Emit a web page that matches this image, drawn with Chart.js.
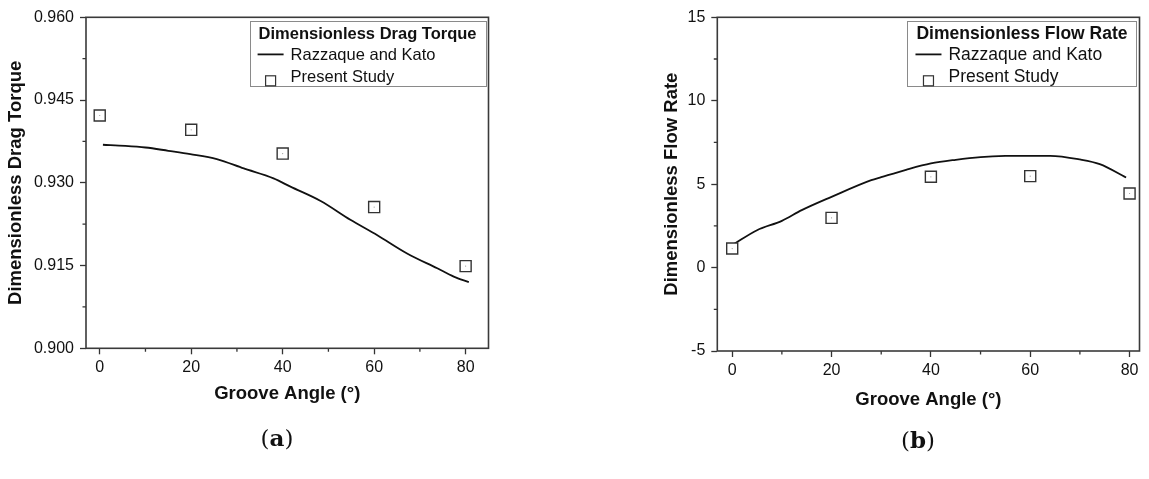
<!DOCTYPE html>
<html><head><meta charset="utf-8">
<script src="https://cdn.jsdelivr.net/npm/chart.js@4.4.0/dist/chart.umd.min.js"></script>
<style>
html,body{margin:0;padding:0;background:#fff;width:1149px;height:479px;overflow:hidden;}
#ca{position:absolute;left:0;top:0;}
#cb{position:absolute;left:640px;top:0;}
.cap{position:absolute;width:100px;text-align:center;font-family:"DejaVu Serif",serif;font-size:23px;line-height:26px;color:#111;}
</style></head><body>
<canvas id="ca" width="500" height="479" style="width:500px;height:479px"></canvas>
<canvas id="cb" width="509" height="479" style="width:509px;height:479px"></canvas>
<div class="cap" style="left:227px;top:425px">(<b>a</b>)</div>
<div class="cap" style="left:868px;top:427px">(<b>b</b>)</div>
<script>
// ---------- data ----------
const seriesNames = ['Razzaque and Kato', 'Present Study'];
const xTitle = 'Groove Angle (°)';

// (a) drag torque
const torqueRefAngle = [0.7, 5.6, 10, 15, 19.8, 25.6, 31.5, 38, 41.7, 48.3, 54.8, 60.7, 67.2, 73.8, 77.4, 80.7];
const torqueRef      = [0.9369, 0.9367, 0.9364, 0.9358, 0.9352, 0.9343, 0.9326, 0.9308, 0.9293, 0.9267, 0.9233, 0.9205, 0.9172, 0.9145, 0.9130, 0.9120];
const studyAngle     = [0, 20, 40, 60, 80];
const torqueStudy    = [0.9422, 0.9396, 0.9353, 0.9256, 0.9149];
const torqueYTicks   = [0.900, 0.915, 0.930, 0.945, 0.960];
const torqueYLabels  = ['0.900', '0.915', '0.930', '0.945', '0.960'];
const torqueYMinor   = [0.9075, 0.9225, 0.9375, 0.9525];

// (b) flow rate
const flowRefAngle = [0.3, 5, 10, 14, 20, 28, 30, 35, 40, 45, 50, 55, 60, 64, 70, 74, 79.3];
const flowRef      = [1.40, 2.24, 2.80, 3.44, 4.24, 5.24, 5.42, 5.86, 6.24, 6.46, 6.62, 6.69, 6.70, 6.70, 6.48, 6.20, 5.40];
const flowStudy    = [1.14, 2.98, 5.44, 5.48, 4.44];
const flowYTicks   = [-5, 0, 5, 10, 15];
const flowYLabels  = ['-5', '0', '5', '10', '15'];
const flowYMinor   = [-2.5, 2.5, 7.5, 12.5];

const xTicks      = [0, 20, 40, 60, 80];
const xTickLabels = ['0', '20', '40', '60', '80'];
const xMinor      = [10, 30, 50, 70];

// ---------- drawing ----------
const FONT = '"Liberation Sans", Arial, Helvetica, sans-serif';

const framePlugin = {
  id: 'frame',
  afterDraw(chart, args, opts) {
    const ctx = chart.ctx, a = chart.chartArea;
    const xs = chart.scales.x, ys = chart.scales.y;
    ctx.save();
    // minor ticks
    ctx.strokeStyle = '#333'; ctx.lineWidth = 1.3;
    ctx.beginPath();
    opts.xMinor.forEach(v => { const p = xs.getPixelForValue(v); ctx.moveTo(p, a.bottom); ctx.lineTo(p, a.bottom + 3.5); });
    opts.yMinor.forEach(v => { const p = ys.getPixelForValue(v); ctx.moveTo(a.left, p); ctx.lineTo(a.left - 3.5, p); });
    ctx.stroke();
    // frame
    ctx.lineWidth = 1.6; ctx.strokeStyle = '#3a3a3a';
    ctx.strokeRect(a.left, a.top, a.right - a.left, a.bottom - a.top);
    // legend
    const sz = opts.legendSize;
    ctx.font = 'bold ' + sz + 'px ' + FONT;
    const tw = ctx.measureText(opts.legendTitle).width;
    const w = tw + 18, h = 65;
    const bx = a.right - 3 - w, by = a.top + 3.5;
    ctx.fillStyle = '#fff'; ctx.fillRect(bx, by, w, h);
    ctx.strokeStyle = '#8a8a8a'; ctx.lineWidth = 1;
    ctx.strokeRect(Math.round(bx) + 0.5, Math.round(by) + 0.5, Math.round(w), Math.round(h));
    ctx.textBaseline = 'middle'; ctx.textAlign = 'left'; ctx.fillStyle = '#111';
    ctx.fillText(opts.legendTitle, bx + 9, by + 13.8);
    ctx.font = sz + 'px ' + FONT;
    ctx.fillText(chart.data.datasets[0].label, bx + 41, by + 34.8);
    ctx.fillText(chart.data.datasets[1].label, bx + 41, by + 56.3);
    ctx.strokeStyle = '#111'; ctx.lineWidth = 1.8;
    ctx.beginPath(); ctx.moveTo(bx + 8, by + 33.6); ctx.lineTo(bx + 34, by + 33.6); ctx.stroke();
    ctx.strokeStyle = '#333'; ctx.lineWidth = 1.2;
    ctx.strokeRect(bx + 16, by + 55, 10, 10);
    ctx.restore();
  }
};

function makeChart(id, c) {
  const pts = studyAngle.map((x, i) => ({x: x, y: c.study[i]}));
  return new Chart(document.getElementById(id), {
    type: 'scatter',
    data: {
      datasets: [
        {label: seriesNames[0], data: c.refX.map((x, i) => ({x: x, y: c.refY[i]})),
         showLine: true, borderColor: '#111', borderWidth: 1.8, pointRadius: 0,
         cubicInterpolationMode: 'monotone', fill: false, order: 2},
        {label: seriesNames[1], data: pts, pointStyle: 'rect', pointRadius: 7.8,
         pointBackgroundColor: '#fff', pointBorderColor: '#333', pointBorderWidth: 1.4, order: 1},
        {label: '', data: pts, pointStyle: 'circle', pointRadius: 0.6,
         pointBackgroundColor: '#999', pointBorderWidth: 0, order: 0}
      ]
    },
    options: {
      responsive: false, animation: false, events: [],
      layout: {padding: {left: 0, top: 17.3, right: c.padRight, bottom: c.padBottom}},
      plugins: {
        legend: {display: false}, tooltip: {enabled: false},
        frame: {xMinor: xMinor, yMinor: c.yMinor, legendTitle: c.legendTitle, legendSize: c.legendSize}
      },
      scales: {
        x: {
          type: 'linear', position: 'bottom', min: c.xMin, max: c.xMax,
          afterBuildTicks: s => { s.ticks = xTicks.map(v => ({value: v})); },
          afterFit: s => { s.height = c.xH; },
          grid: {drawOnChartArea: false, drawTicks: true, tickLength: 6, tickColor: '#333', tickWidth: 1.3},
          border: {display: false},
          ticks: {font: {family: FONT, size: 16}, color: '#111', padding: 3.7, maxRotation: 0, autoSkip: false,
                  callback: (v, i) => xTickLabels[i]},
          title: {display: true, text: xTitle, color: '#111', padding: {top: 0, bottom: 0},
                  font: {family: FONT, size: 18.5, weight: 'bold'}}
        },
        y: {
          type: 'linear', position: 'left', min: c.yTicks[0], max: c.yTicks[c.yTicks.length - 1],
          afterBuildTicks: s => { s.ticks = c.yTicks.map(v => ({value: v})); },
          afterFit: s => { s.width = c.yW; },
          grid: {drawOnChartArea: false, drawTicks: true, tickLength: 6, tickColor: '#333', tickWidth: 1.3},
          border: {display: false},
          ticks: {font: {family: FONT, size: 16}, color: '#111', padding: 6, autoSkip: false,
                  callback: (v, i) => c.yLabels[i]},
          title: {display: true, text: c.yTitle, color: '#111', padding: {top: c.yTitlePad, bottom: 0},
                  font: {family: FONT, size: 18.5, weight: 'bold'}}
        }
      }
    },
    plugins: [framePlugin]
  });
}

makeChart('ca', {
  refX: torqueRefAngle, refY: torqueRef, study: torqueStudy,
  yTicks: torqueYTicks, yLabels: torqueYLabels, yMinor: torqueYMinor,
  yTitle: 'Dimensionless Drag Torque', legendTitle: 'Dimensionless Drag Torque', legendSize: 16.5,
  xMin: -3, xMax: 85, yW: 86, yTitlePad: 5.2, xH: 56.8, padBottom: 73.9, padRight: 11.5
});
makeChart('cb', {
  refX: flowRefAngle, refY: flowRef, study: flowStudy,
  yTicks: flowYTicks, yLabels: flowYLabels, yMinor: flowYMinor,
  yTitle: 'Dimensionless Flow Rate', legendTitle: 'Dimensionless Flow Rate', legendSize: 17.5,
  xMin: -3, xMax: 82, yW: 77.3, yTitlePad: 20.6, xH: 59.6, padBottom: 68.4, padRight: 9.5
});
</script>
</body></html>
